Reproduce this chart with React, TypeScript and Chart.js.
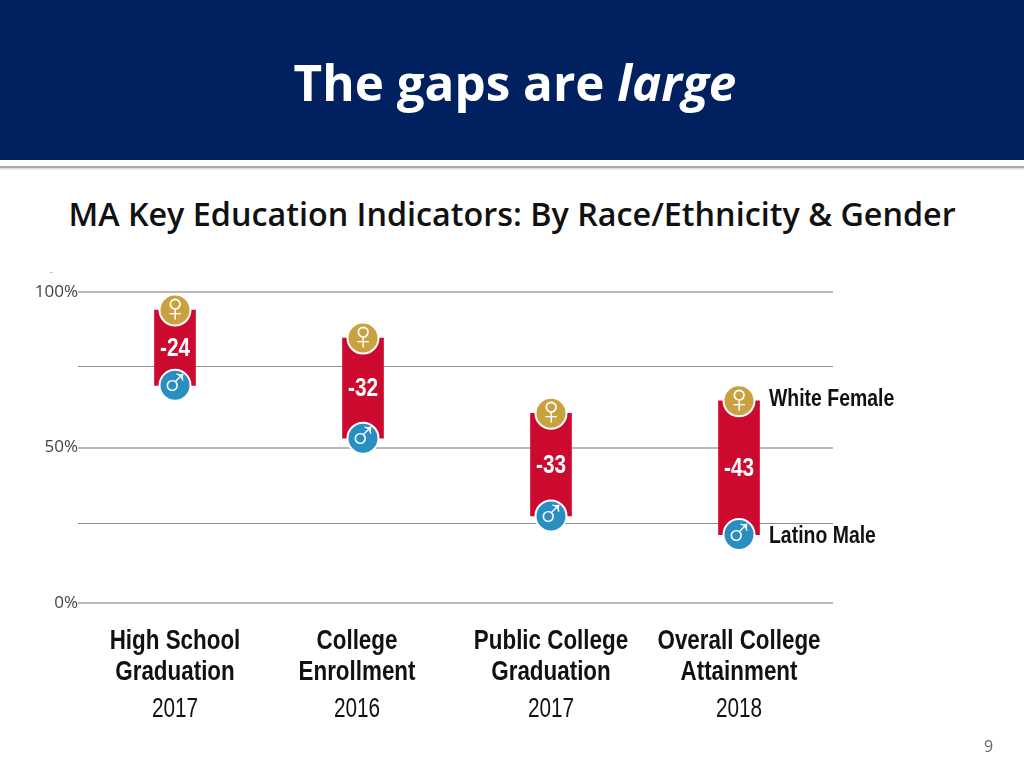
import React, { useEffect, useRef } from "react";
import { Chart, registerables } from "chart.js";

Chart.register(...registerables);

const categories = [
  ["High School", "Graduation"],
  ["College", "Enrollment"],
  ["Public College", "Graduation"],
  ["Overall College", "Attainment"],
];
const years = ["2017", "2016", "2017", "2018"];
const whiteFemale = [94.2, 85.2, 61, 65];
const latinoMale = [70, 53, 28, 22];
const gaps = ["-24", "-32", "-33", "-43"];
const gridValues = [0, 25.7, 50, 75.9, 100];
const labelledTicks = [0, 50, 100];
const seriesNames = ["White Female", "Latino Male"];

const FACE = '"Liberation Sans", sans-serif';
// Second column's captions sit a little left of its bar in the reference.
const captionShift = [0, -6, 0, 0];

function narrowText(ctx: any, text: string, x: number, y: number, sx: number) {
  ctx.save();
  ctx.translate(x, y);
  ctx.scale(sx, 1);
  ctx.fillText(text, 0, 0);
  ctx.restore();
}

const overlay = {
  id: "overlay",
  afterDatasetsDraw(chart: any) {
    const { ctx } = chart;
    const bars = chart.getDatasetMeta(0).data;
    const females = chart.getDatasetMeta(1).data;
    const males = chart.getDatasetMeta(2).data;
    const xScale = chart.scales.x;
    const bottom = chart.chartArea.bottom;
    ctx.save();
    ctx.textBaseline = "middle";
    ctx.textAlign = "center";
    ctx.fillStyle = "#ffffff";
    ctx.font = `bold 26px ${FACE}`;
    bars.forEach((b: any, i: number) => {
      narrowText(ctx, gaps[i], b.x, (females[i].y + males[i].y) / 2 + 1, 0.8);
    });
    ctx.font = `40px ${FACE}`;
    females.forEach((p: any) => ctx.fillText("\u2640", p.x, p.y));
    ctx.font = `40px ${FACE}`;
    males.forEach((p: any) => ctx.fillText("\u2642", p.x, p.y));

    ctx.fillStyle = "#111111";
    categories.forEach((lines, i) => {
      const x = xScale.getPixelForValue(i) + captionShift[i];
      ctx.font = `bold 28px ${FACE}`;
      lines.forEach((line, k) => narrowText(ctx, line, x, bottom + 38 + k * 31, 0.8));
      ctx.font = `27px ${FACE}`;
      narrowText(ctx, years[i], x, bottom + 107, 0.77);
    });

    ctx.textAlign = "left";
    ctx.font = `bold 24px ${FACE}`;
    const last = females.length - 1;
    narrowText(ctx, seriesNames[0], females[last].x + 30, females[last].y - 1, 0.81);
    narrowText(ctx, seriesNames[1], males[last].x + 30, males[last].y + 2, 0.81);
    ctx.restore();
  },
};

export default function App() {
  const ref = useRef<HTMLCanvasElement>(null);
  useEffect(() => {
    document.body.style.margin = "0";
    document.body.style.background = "#fff";
    const chart = new Chart(ref.current as HTMLCanvasElement, {
      type: "bar",
      data: {
        labels: categories.map((c) => c.join(" ")),
        datasets: [
          {
            label: "Gap",
            data: whiteFemale.map((v, i) => [latinoMale[i], v]) as any,
            backgroundColor: "#CC0A2F",
            barThickness: 41,
            order: 3,
          },
          {
            type: "line",
            label: seriesNames[0],
            data: whiteFemale,
            showLine: false,
            pointRadius: 15.5,
            pointBackgroundColor: "#C9A23F",
            pointBorderColor: "#ffffff",
            pointBorderWidth: 2,
            order: 1,
          },
          {
            type: "line",
            label: seriesNames[1],
            data: latinoMale,
            showLine: false,
            pointRadius: 15.5,
            pointBackgroundColor: "#2A8FC0",
            pointBorderColor: "#ffffff",
            pointBorderWidth: 2,
            order: 2,
          },
        ] as any,
      },
      options: {
        responsive: false,
        animation: false,
        devicePixelRatio: 1,
        layout: { padding: { left: 0, right: 191, top: 292, bottom: 165 } },
        plugins: { legend: { display: false }, tooltip: { enabled: false } },
        scales: {
          x: {
            type: "category",
            grid: { display: false },
            border: { display: false },
            ticks: { display: false },
            afterFit: (s: any) => { s.height = 0; },
          },
          y: {
            min: 0,
            max: 100,
            afterFit: (s: any) => { s.width = 81; },
            afterBuildTicks: (s: any) => { s.ticks = gridValues.map((value) => ({ value })); },
            border: { display: false },
            grid: {
              tickLength: 3,
              color: (c: any) => (labelledTicks.includes(c.tick?.value) ? "#b9b9b9" : "#8f8f8f"),
              lineWidth: (c: any) => (labelledTicks.includes(c.tick?.value) ? 2 : 1),
            },
            ticks: {
              padding: 0,
              color: "#444444",
              font: { family: '"Open Sans", sans-serif', size: 17 },
              callback: (v: any) => (labelledTicks.includes(v) ? `${v}%` : ""),
            },
          },
        },
      } as any,
      plugins: [overlay],
    });
    return () => chart.destroy();
  }, []);

  return (
    <div style={{ position: "relative", width: 1024, height: 768, overflow: "hidden", background: "#fff", fontFamily: '"Open Sans", sans-serif' }}>
      <div style={{ position: "absolute", left: 0, top: 0, width: 1024, height: 160, background: "#00205F" }} />
      <div style={{ position: "absolute", left: 0, top: 166, width: 1024, height: 2, background: "#a9a9a2", boxShadow: "0 1px 2px #ccc" }} />
      <div style={{ position: "absolute", left: 0, top: 50, width: 1030, textAlign: "center", color: "#fff", fontWeight: 700, fontSize: 49.4, lineHeight: "64px", whiteSpace: "nowrap" }}>
        The gaps are <i>large</i>
      </div>
      <div style={{ position: "absolute", left: 0, top: 191, width: 1024, textAlign: "center", color: "#111", fontWeight: 600, fontSize: 32.3, lineHeight: "44px", whiteSpace: "nowrap" }}>
        MA Key Education Indicators: By Race/Ethnicity &amp; Gender
      </div>
      <canvas ref={ref} width={1024} height={768} style={{ position: "absolute", left: 0, top: 0, display: "block" }} />
      <div style={{ position: "absolute", left: 50, top: 266, color: "#999", fontSize: 9, lineHeight: "12px" }}>-</div>
      <div style={{ position: "absolute", left: 984, top: 735, color: "#666", fontSize: 16, lineHeight: "22px" }}>9</div>
    </div>
  );
}
